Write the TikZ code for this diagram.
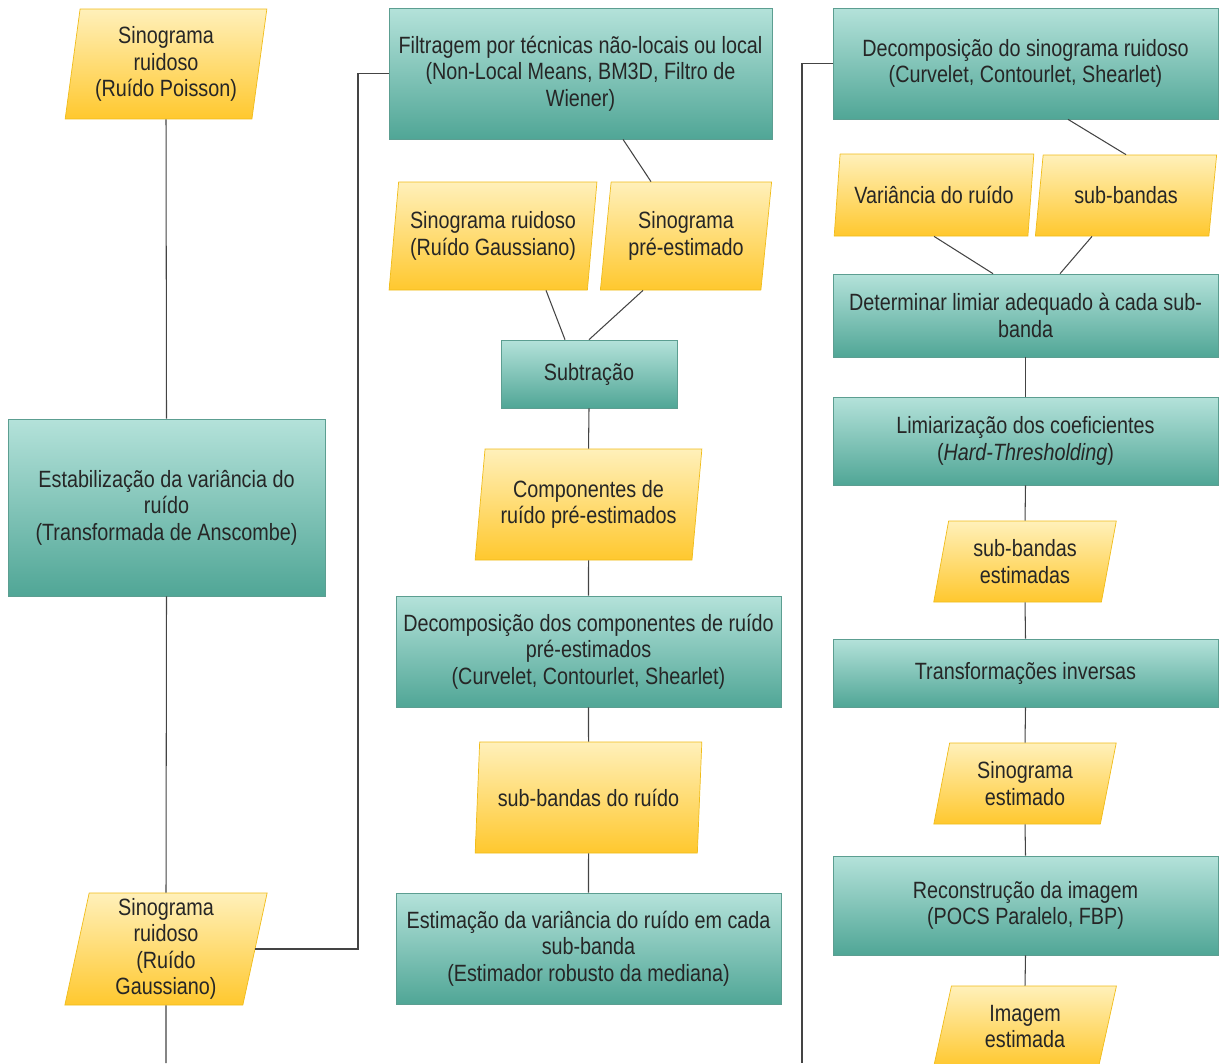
\documentclass[tikz,border=0pt]{standalone}
\usepackage{fontspec}
\setmainfont{Liberation Sans}[FakeStretch=0.84]
\usetikzlibrary{shapes.geometric}

\definecolor{tealtop}{HTML}{B4E2DA}
\definecolor{tealbot}{HTML}{50A696}
\definecolor{tealline}{HTML}{5C9E91}
\definecolor{goldtop}{HTML}{FFF0BA}
\definecolor{goldbot}{HTML}{FFC82E}
\definecolor{goldline}{HTML}{F0BC1A}
\definecolor{inktext}{HTML}{262626}
\definecolor{wire}{HTML}{444444}

\tikzset{
  txt/.style={font=\fontsize{13.4pt}{15pt}\selectfont, text=inktext, align=center, inner sep=2pt},
  procbox/.style={txt, shape=rectangle, draw=tealline, top color=tealtop, bottom color=tealbot},
  databox/.style={txt, shape=trapezium, trapezium left angle=81, trapezium right angle=99,
                  trapezium stretches=true, draw=goldline, top color=goldtop, bottom color=goldbot},
  link/.style={draw=wire, line width=0.6pt}
}

\begin{document}
\begin{tikzpicture}[x=0.02cm, y=-0.02cm]
                \clip (0,0) rectangle (1219,1063);

                % coluna esquerda
                \node[databox, minimum width=4.06cm, minimum height=2.2cm] (poisson) at (166,64) {Sinograma\\ruidoso\\(Ruído Poisson)};
                \node[procbox, minimum width=6.34cm, minimum height=3.54cm] (anscombe) at (166.5,507.5) {Estabilização da variância do\\ruído\\(Transformada de Anscombe)};
                \node[databox, minimum width=4.06cm, minimum height=2.24cm] (gauss) at (166,949) {Sinograma\\ruidoso\\(Ruído\\Gaussiano)};
                \coordinate (endL) at (166,1063);
                \coordinate (bendL) at (358,73.5);

                % coluna do meio
                \node[procbox, minimum width=7.66cm, minimum height=2.62cm] (filtro) at (580.5,73.5) {Filtragem por técnicas não-locais ou local\\(Non-Local Means, BM3D, Filtro de\\Wiener)};
                \node[databox, minimum width=4.16cm, minimum height=2.16cm] (sinG) at (493,236) {Sinograma ruidoso\\(Ruído Gaussiano)};
                \node[databox, minimum width=3.44cm, minimum height=2.16cm] (sinPre) at (686,236) {Sinograma\\pré-estimado};
                \node[procbox, minimum width=3.52cm, minimum height=1.36cm] (subtr) at (589,374) {Subtração};
                \node[databox, minimum width=4.54cm, minimum height=2.22cm] (compR) at (588.5,504.5) {Componentes de\\ruído pré-estimados};
                \node[procbox, minimum width=7.7cm, minimum height=2.22cm] (decComp) at (588.5,651.5) {Decomposição dos componentes de ruído\\pré-estimados\\(Curvelet, Contourlet, Shearlet)};
                \node[databox, minimum width=4.54cm, minimum height=2.22cm] (subR) at (588.5,797.5) {sub-bandas do ruído};
                \node[procbox, minimum width=7.7cm, minimum height=2.22cm] (estVar) at (588.5,948.5) {Estimação da variância do ruído em cada\\sub-banda\\(Estimador robusto da mediana)};

                % coluna direita
                \node[procbox, minimum width=7.7cm, minimum height=2.22cm] (decSin) at (1025.5,63.5) {Decomposição do sinograma ruidoso\\(Curvelet, Contourlet, Shearlet)};
                \node[databox, trapezium left angle=78, trapezium right angle=102, minimum width=4.02cm, minimum height=1.64cm] (varR) at (934,195) {Variância do ruído};
                \node[databox, trapezium left angle=78, trapezium right angle=102, minimum width=3.64cm, minimum height=1.62cm] (subB) at (1126,195.5) {sub-bandas};
                \node[procbox, minimum width=7.7cm, minimum height=1.66cm] (limiar) at (1025.5,315.5) {Determinar limiar adequado à cada sub-\\banda};
                \node[procbox, minimum width=7.7cm, minimum height=1.76cm] (hard) at (1025.5,441) {Limiarização dos coeficientes\\(\textit{Hard-Thresholding})};
                \node[databox, trapezium left angle=78, trapezium right angle=102, minimum width=3.66cm, minimum height=1.62cm] (subEst) at (1025,561.5) {sub-bandas\\estimadas};
                \node[procbox, minimum width=7.7cm, minimum height=1.36cm] (inv) at (1025.5,673) {Transformações inversas};
                \node[databox, trapezium left angle=78, trapezium right angle=102, minimum width=3.66cm, minimum height=1.62cm] (sinEst) at (1025,783.5) {Sinograma\\estimado};
                \node[procbox, minimum width=7.7cm, minimum height=1.98cm] (recon) at (1025.5,905.5) {Reconstrução da imagem\\(POCS Paralelo, FBP)};
                \node[databox, trapezium left angle=78, trapezium right angle=102, minimum width=3.66cm, minimum height=1.62cm] (imgEst) at (1025,1026.5) {Imagem\\estimada};
                \coordinate (bendR) at (802,63.5);
                \coordinate (endR) at (802,1063);

                \draw[link] (poisson.south) -- (anscombe.north);
                \draw[link] (anscombe.south) -- (gauss.north);
                \draw[link] (gauss.south) -- (endL);
                \draw[link] (gauss.east) -| (bendL) -- (filtro.west);

                \draw[link] ([xshift=0.85cm]filtro.south) -- ([xshift=-0.7cm]sinPre.north);
                \draw[link] ([xshift=1.06cm]sinG.south) -- ([xshift=-0.48cm]subtr.north);
                \draw[link] ([xshift=-0.86cm]sinPre.south) -- (subtr.north);
                \draw[link] (subtr.south) -- (compR.north);
                \draw[link] (compR.south) -- (decComp.north);
                \draw[link] (decComp.south) -- (subR.north);
                \draw[link] (subR.south) -- (estVar.north);

                \draw[link] (decSin.west) -- (bendR) -- (endR);
                \draw[link] ([xshift=0.85cm]decSin.south) -- (subB.north);
                \draw[link] (varR.south) -- ([xshift=-0.65cm]limiar.north);
                \draw[link] ([xshift=-0.68cm]subB.south) -- ([xshift=0.69cm]limiar.north);
                \draw[link] (limiar.south) -- (hard.north);
                \draw[link] (hard.south) -- (subEst.north);
                \draw[link] (subEst.south) -- (inv.north);
                \draw[link] (inv.south) -- (sinEst.north);
                \draw[link] (sinEst.south) -- (recon.north);
                \draw[link] (recon.south) -- (imgEst.north);

            \end{tikzpicture}
\end{document}
